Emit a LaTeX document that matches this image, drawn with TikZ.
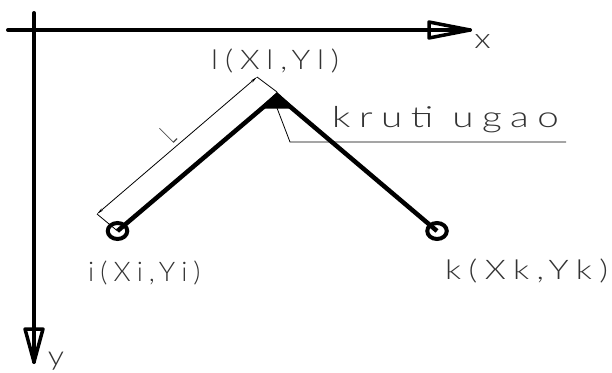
\documentclass[tikz,border=0pt]{standalone}
\usepackage{fontspec}
\setmainfont{Lato Light}
\newfontfamily\spaced[LetterSpace=22]{Lato Light}
\usetikzlibrary{shapes.geometric,arrows.meta}
\newcommand{\wide}[2]{\scalebox{#1}[1]{#2}}

\begin{document}
\begin{tikzpicture}[
    x=1pt, y=-1pt,
    axis/.style={line width=4pt, line cap=round},
    head/.style={line width=3.5pt, line join=round},
    bar/.style={line width=4.5pt},
    thin line/.style={line width=0.8pt},
    dim/.style={line width=0.8pt, {Stealth[length=7pt,width=2.5pt]}-{Stealth[length=7pt,width=2.5pt]}},
    point/.style={ellipse, draw, line width=4pt, inner sep=0pt, minimum width=19.5pt, minimum height=16pt},
    label/.style={font=\spaced\fontsize{27}{27}\selectfont, text=black!80, inner sep=0pt}
]
\useasboundingbox (0,0) rectangle (612,372);

% axes
\coordinate (xstart) at (8,30);
\coordinate (xtip) at (470,30);
\coordinate (ystart) at (34,13);
\coordinate (ytip) at (34,362);
\draw[axis] (xstart) -- (xtip);
\draw[axis] (ystart) -- (ytip);
\draw[head] (xtip) -- (429,22) -- (429,38) -- cycle;
\draw[head] (ytip) -- (25,329) -- (43,329) -- cycle;
\node[label, font=\fontsize{28}{28}\selectfont] (xlabel) at (482.5,42) {\wide{1.25}{x}};
\node[label, font=\fontsize{27}{27}\selectfont] (ylabel) at (56,361) {\wide{1.2}{y}};

% points
\coordinate (apex) at (277,92);
\coordinate (barjoin) at (277,95.5);
\node[point] (ipoint) at (117.5,231) {};
\node[point] (kpoint) at (437,231) {};
\draw[bar] (ipoint.center) -- (barjoin);
\draw[bar] (kpoint.center) -- (barjoin);
\fill (apex) -- (295,108.5) -- (259,108.5) -- cycle;

% dimension
\coordinate (dimtop) at (257,77);
\coordinate (dimbot) at (97,214);
\draw[thin line] (apex) -- (dimtop);
\draw[thin line] (ipoint.center) -- (dimbot);
\draw[dim] (dimbot) -- (dimtop);
\node[label, rotate=45, font=\fontsize{29}{29}\selectfont] (llabel) at (168,135) {\wide{.5}{L}};

% leader
\coordinate (legstart) at (277,108);
\coordinate (legbend) at (290,142);
\coordinate (legend) at (566,142);
\draw[thin line] (legstart) -- (legbend) -- (legend);
\node[label, anchor=base west, font=\spaced\fontsize{29}{29}\selectfont] (kruti) at (332,127) {\wide{1.33}{kruti ugao}};

% texts
\node[label, anchor=base west] (ltext) at (211,69) {\wide{1.165}{l(Xl,Yl)}};
\node[label, anchor=base west] (itext) at (88,281) {\wide{1.02}{i(Xi,Yi)}};
\node[label, anchor=base west] (ktext) at (445,279) {\wide{1.25}{k(Xk,Yk)}};
\end{tikzpicture}
\end{document}
